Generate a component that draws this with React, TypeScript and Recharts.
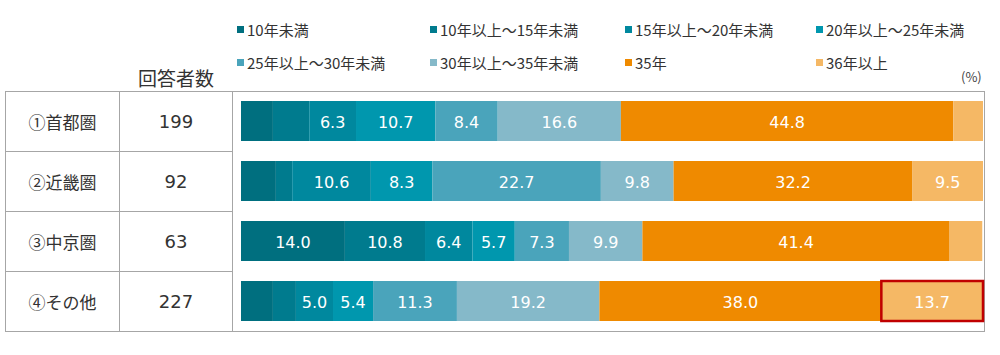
import React from "react"
import { BarChart, Bar, XAxis, YAxis, LabelList } from "recharts"

const regions = ["①首都圏", "②近畿圏", "③中京圏", "④その他"]
const respondents = [199, 92, 63, 227]

const seriesNames = [
  "10年未満",
  "10年以上～15年未満",
  "15年以上～20年未満",
  "20年以上～25年未満",
  "25年以上～30年未満",
  "30年以上～35年未満",
  "35年",
  "36年以上",
]
const seriesColors = ["#006f7f", "#007b8e", "#00889e", "#0097ae", "#4aa4bb", "#85b9c9", "#ef8a00", "#f5b865"]

const under10 = [4.3, 4.7, 14.0, 4.3]
const y10to15 = [4.9, 2.2, 10.8, 3.1]
const y15to20 = [6.3, 10.6, 6.4, 5.0]
const y20to25 = [10.7, 8.3, 5.7, 5.4]
const y25to30 = [8.4, 22.7, 7.3, 11.3]
const y30to35 = [16.6, 9.8, 9.9, 19.2]
const y35 = [44.8, 32.2, 41.4, 38.0]
const over36 = [4.0, 9.5, 4.4, 13.7]

const seriesValues = [under10, y10to15, y15to20, y20to25, y25to30, y30to35, y35, over36]
const highlighted = { region: "④その他", series: "36年以上" }

const data = regions.map((region, i) => {
  const row: Record<string, string | number> = { region }
  seriesNames.forEach((name, s) => {
    row[name] = seriesValues[s][i]
  })
  return row
})

const FONT = "'Noto Sans CJK JP', 'Noto Sans', sans-serif"
const NUM_FONT = "'DejaVu Sans', sans-serif"

const renderLabel = (props: any) => {
  const { x, y, width, height, value } = props
  if (value < 5) return null
  return (
    <text
      x={x + width / 2}
      y={y + height / 2 + 1}
      fill="#ffffff"
      fontSize={16}
      fontFamily={NUM_FONT}
      textAnchor="middle"
      dominantBaseline="central"
    >
      {Number(value).toFixed(1)}
    </text>
  )
}

const makeShape = (name: string, color: string) => (props: any) => {
  const { x, y, width, height, payload } = props
  const mark = payload.region === highlighted.region && name === highlighted.series
  return (
    <g>
      <rect x={x} y={y} width={width} height={height} fill={color} />
      {mark && (
        <rect x={x} y={y} width={width} height={height} fill="none" stroke="#c00000" strokeWidth={2.5} />
      )}
    </g>
  )
}

// legend grid: 4 columns x 2 rows
const legendCols = [237, 430, 625, 816]
const legendRows = [29, 62]

const border = "1.5px solid #a6a6a6"

export default function App() {
  return (
    <div style={{ position: "absolute", left: 0, top: 0, width: 1000, height: 355, background: "#fff" }}>
      {seriesNames.map((name, i) => (
        <div
          key={name}
          style={{
            position: "absolute",
            left: legendCols[i % 4],
            top: legendRows[Math.floor(i / 4)] - 11,
            height: 22,
            display: "flex",
            alignItems: "center",
            whiteSpace: "nowrap",
            fontFamily: FONT,
            fontSize: 15,
            color: "#333",
          }}
        >
          <span style={{ width: 7, height: 7, background: seriesColors[i], marginRight: 3 }} />
          <span>{name}</span>
        </div>
      ))}
      <div
        style={{
          position: "absolute",
          left: 138,
          top: 64,
          fontFamily: FONT,
          fontSize: 19,
          color: "#333",
        }}
      >
        回答者数
      </div>
      <div
        style={{
          position: "absolute",
          left: 961,
          top: 67,
          fontFamily: FONT,
          fontSize: 13,
          color: "#444",
        }}
      >
        (%)
      </div>
      <div
        style={{
          position: "absolute",
          left: 5,
          top: 91,
          width: 980,
          height: 241,
          borderTop: border,
          borderBottom: border,
          borderRight: border,
          boxSizing: "border-box",
        }}
      />
      <div
        style={{
          position: "absolute",
          left: 5,
          top: 91,
          width: 228,
          height: 241,
          borderLeft: border,
          borderRight: border,
          boxSizing: "border-box",
        }}
      >
        {regions.map((r, i) => (
          <div
            key={r}
            style={{
              display: "flex",
              height: 60,
              boxSizing: "border-box",
              borderTop: i === 0 ? "none" : border,
              fontFamily: FONT,
              color: "#333",
            }}
          >
            <div
              style={{
                width: 113,
                borderRight: border,
                display: "flex",
                alignItems: "center",
                justifyContent: "center",
                fontSize: 17,
              }}
            >
              {r}
            </div>
            <div
              style={{
                flex: 1,
                display: "flex",
                alignItems: "center",
                justifyContent: "center",
                fontSize: 18,
                fontFamily: NUM_FONT,
              }}
            >
              {respondents[i]}
            </div>
          </div>
        ))}
      </div>
      <div style={{ position: "absolute", left: 0, top: 0 }}>
        <BarChart
          width={1000}
          height={355}
          data={data}
          layout="vertical"
          margin={{ top: 91, right: 17, bottom: 24, left: 241 }}
          barSize={40}
        >
          <XAxis type="number" domain={[0, 100]} hide />
          <YAxis type="category" dataKey="region" hide />
          {seriesNames.map((name, i) => (
            <Bar
              key={name}
              dataKey={name}
              stackId="a"
              fill={seriesColors[i]}
              shape={makeShape(name, seriesColors[i])}
              isAnimationActive={false}
            >
              <LabelList dataKey={name} content={renderLabel} />
            </Bar>
          ))}
        </BarChart>
      </div>
    </div>
  )
}
